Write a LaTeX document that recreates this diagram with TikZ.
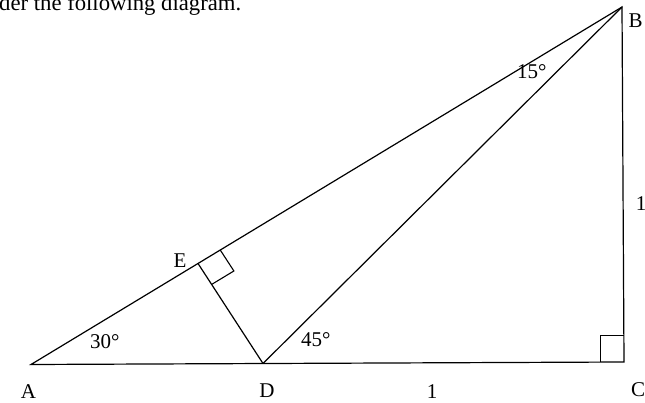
\documentclass[tikz,border=0pt]{standalone}
\usepackage{fontspec}
\setmainfont{Liberation Serif}
\usetikzlibrary{calc}
\begin{document}
\begin{tikzpicture}[x=1pt,y=-1pt,
  edge/.style={line width=1.2pt,black},
  mark90/.style={line width=1.1pt,black},
  lbl/.style={font=\fontsize{21}{24}\selectfont,inner sep=0pt,anchor=base},
  ang/.style={font=\fontsize{21}{24}\selectfont,inner sep=0pt,anchor=base west}]
\useasboundingbox (0,0) rectangle (645,403);
\clip (0,0) rectangle (645,403);
\coordinate (A) at (31,364.5);
\coordinate (B) at (622,7);
\coordinate (C) at (624,362);
\coordinate (D) at (263,363.5);
\coordinate (E) at ($(A)!0.2826!(B)$);
% heading (cropped at the top)
\node[anchor=base west,inner sep=0pt,font=\fontsize{22.7}{26}\selectfont] (head) at (-1,10.5) {der the following diagram.};
% sides
\draw[edge] (A) -- (B) -- (C) -- cycle;
\draw[edge] (D) -- (B);
\draw[edge] (D) -- (E);
% right angle at E
\coordinate (e1) at ($(E)!26pt!(B)$);
\coordinate (e2) at ($(E)!25pt!(D)$);
\draw[mark90] (e1) -- ($(e1)+(e2)-(E)$) -- (e2);
% right angle at C
\draw[mark90] ($(C)+(-23.5,0)$) -- ($(C)+(-23.5,-26.5)$) -- ($(C)+(0,-26.5)$);
% vertex labels
\node[lbl] (lA) at (28.5,398.5) {A};
\node[lbl] (lB) at (635.5,28) {B};
\node[lbl] (lC) at (638,396.5) {C};
\node[lbl] (lD) at (267,397) {D};
\node[lbl] (lE) at (180,268) {E};
% lengths
\node[lbl] (l1) at (432,398) {1};
\node[lbl] (l2) at (641,211) {1};
% angles
\node[ang] (a30) at (90,348) {30°};
\node[ang] (a45) at (301,346) {45°};
\node[ang] (a15) at (517,79) {15°};
\end{tikzpicture}
\end{document}
